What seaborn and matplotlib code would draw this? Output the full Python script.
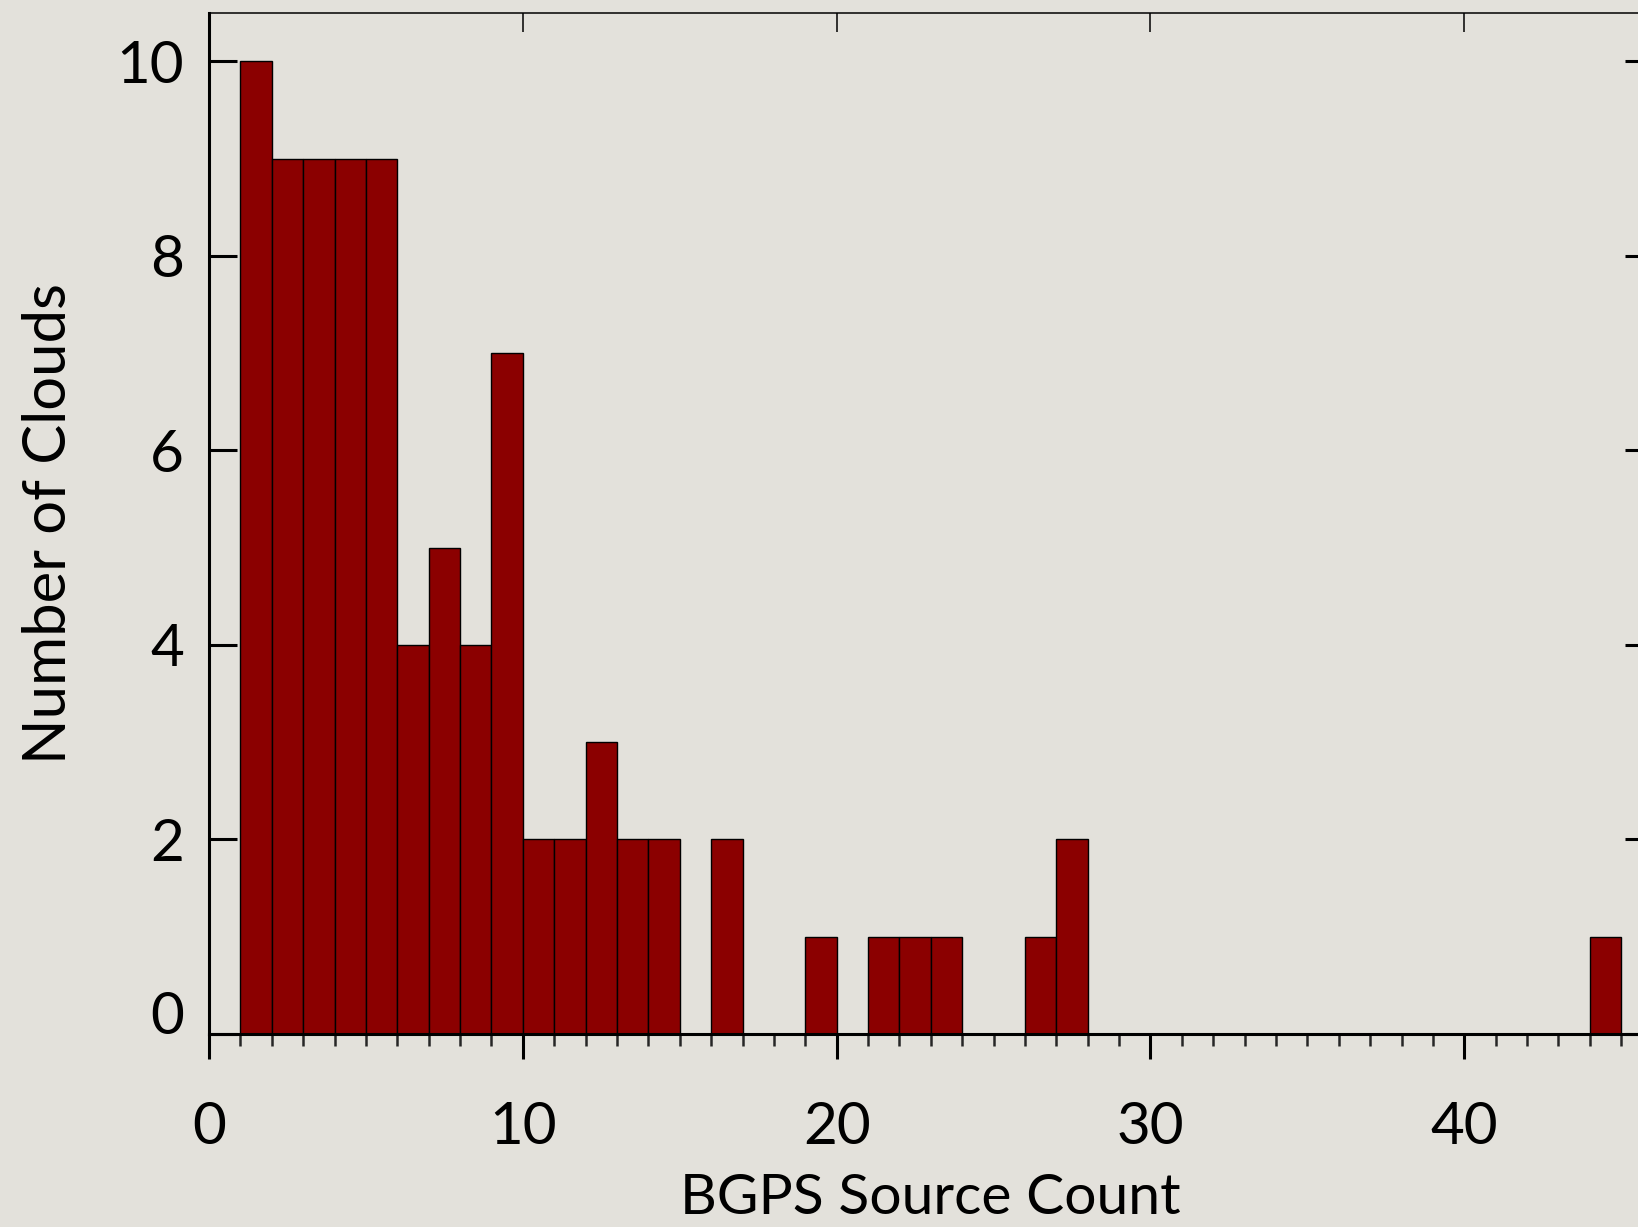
import numpy as np
import pandas as pd
import matplotlib
matplotlib.use("Agg")
import matplotlib.pyplot as plt
import seaborn as sns

# Histogram of BGPS source counts per cloud (unit-width bins starting at 1)
bin_left = list(range(1, 45))
n_clouds = [10, 9, 9, 9, 9, 4, 5, 4, 7, 2,
            2, 3, 2, 2, 0, 2, 0, 0, 1, 0,
            1, 1, 1, 0, 0, 1, 2, 0, 0, 0,
            0, 0, 0, 0, 0, 0, 0, 0, 0, 0,
            0, 0, 0, 1]
x_major = [0, 10, 20, 30, 40]
y_major = [0, 2, 4, 6, 8, 10]

sns.set_theme(style="ticks")
plt.rcParams["font.family"] = ["Lato", "DejaVu Sans"]
plt.rcParams["font.weight"] = "normal"

paper = "#e3e1db"
fig = plt.figure(figsize=(16.38, 12.27), dpi=100, facecolor=paper)
ax = fig.add_axes([0.1276, 0.1573, 0.8813, 0.8324])
ax.set_facecolor(paper)

df = pd.DataFrame({"source_count": np.array(bin_left) + 0.5, "clouds": n_clouds})
sns.histplot(data=df, x="source_count", weights="clouds", binwidth=1, binrange=(1, 45),
             color="#8b0000", edgecolor="black", linewidth=1.0, alpha=1.0, ax=ax)

ax.set_xlim(0, 46)
ax.set_ylim(0, 10.5)

for side in ("left", "bottom", "right"):
    ax.spines[side].set_linewidth(2.2)
    ax.spines[side].set_color("black")
ax.spines["top"].set_visible(False)

ax.set_xticks(x_major)
ax.set_xticks(np.arange(0, 46, 1), minor=True)
ax.set_yticks(y_major)
ax.tick_params(axis="x", which="major", direction="out", length=18, width=2.2,
               labelsize=42, pad=30, colors="black")
ax.tick_params(axis="x", which="minor", direction="out", length=8.5, width=1.8,
               top=False)
ax.tick_params(axis="y", which="major", direction="in", length=20, width=2.2,
               left=True, right=True, labelsize=42, pad=18, colors="black")
ax.tick_params(axis="y", which="minor", left=False, right=False)
ax.get_yticklabels()[0].set_verticalalignment("baseline")

top = ax.secondary_xaxis("top")
top.set_xticks(x_major)
top.tick_params(direction="in", length=14, width=1.1, labeltop=False, colors="black")
top.spines["top"].set_linewidth(1.1)
top.spines["top"].set_color("black")

ax.set_xlabel("BGPS Source Count", fontsize=41, fontweight="normal",
              labelpad=14, color="black")
ax.set_ylabel("Number of Clouds", fontsize=43, fontweight="normal",
              labelpad=29, color="black")

fig.savefig("out.png", dpi=100, facecolor=paper)
